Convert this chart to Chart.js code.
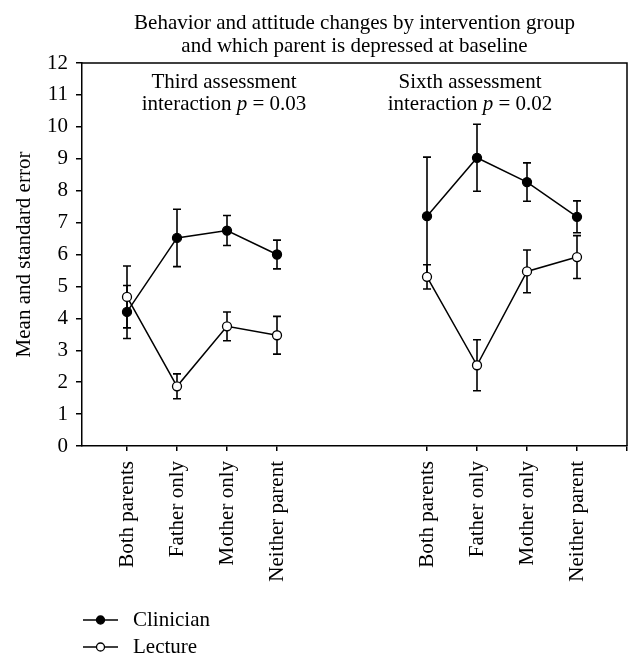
<!DOCTYPE html>
<html>
<head>
<meta charset="utf-8">
<script src="https://cdn.jsdelivr.net/npm/chart.js@4.4.1/dist/chart.umd.min.js"></script>
<style>
  html, body { margin: 0; padding: 0; background: #fff; }
  canvas { display: block; }
</style>
</head>
<body>
<canvas id="chart" width="642" height="665"></canvas>
<script>
// which parent is depressed at baseline
const categories = ['Both parents', 'Father only', 'Mother only', 'Neither parent'];

// third assessment: means and standard errors
const clinicianThird = [4.2, 6.52, 6.75, 6.0];
const clinicianThirdSE = [0.83, 0.9, 0.47, 0.45];
const lectureThird = [4.67, 1.87, 3.75, 3.47];
const lectureThirdSE = [0.97, 0.39, 0.45, 0.59];

// sixth assessment
const clinicianSixth = [7.2, 9.03, 8.27, 7.18];
const clinicianSixthSE = [1.85, 1.05, 0.6, 0.5];
const lectureSixth = [5.3, 2.53, 5.47, 5.92];
const lectureSixthSE = [0.38, 0.8, 0.67, 0.67];

const panelTitles = [
    ['Third assessment', 'interaction ', 'p', ' = 0.03'],
    ['Sixth assessment', 'interaction ', 'p', ' = 0.02']
];
const titleLines = ['Behavior and attitude changes by intervention group', 'and which parent is depressed at baseline'];
const yTitle = 'Mean and standard error';

const FONT = '"Liberation Serif", "Times New Roman", serif';

// two empty slots separate the two assessments
const slots = [...categories, '', '', ...categories];
const joinPanels = (a, b) => [...a, null, null, ...b];

const clinician = joinPanels(clinicianThird, clinicianSixth);
const clinicianSE = joinPanels(clinicianThirdSE, clinicianSixthSE);
const lecture = joinPanels(lectureThird, lectureSixth);
const lectureSE = joinPanels(lectureThirdSE, lectureSixthSE);

const toPoints = values => values.map((y, i) => ({ x: i, y: y }));

const errorBars = {
    id: 'errorBars',
    beforeDatasetsDraw(chart) {
        const ctx = chart.ctx;
        const xs = chart.scales.x, ys = chart.scales.y;
        ctx.save();
        ctx.strokeStyle = '#000';
        ctx.lineWidth = 1.6;
        chart.data.datasets.forEach(ds => {
            ds.data.forEach((p, i) => {
                if (p.y === null) return;
                const se = ds.se[i];
                const x = xs.getPixelForValue(p.x);
                const y1 = ys.getPixelForValue(p.y - se);
                const y2 = ys.getPixelForValue(p.y + se);
                ctx.beginPath();
                ctx.moveTo(x, y1); ctx.lineTo(x, y2);
                ctx.moveTo(x - 4, y1); ctx.lineTo(x + 4, y1);
                ctx.moveTo(x - 4, y2); ctx.lineTo(x + 4, y2);
                ctx.stroke();
            });
        });
        ctx.restore();
    }
};

function drawMixed(ctx, parts, cx, y) {
    const fonts = parts.map((t, i) => (i === 1 ? 'italic ' : '') + '21px ' + FONT);
    let total = 0;
    const widths = parts.map((t, i) => { ctx.font = fonts[i]; const w = ctx.measureText(t).width; total += w; return w; });
    let x = cx - total / 2;
    ctx.textAlign = 'left';
    parts.forEach((t, i) => { ctx.font = fonts[i]; ctx.fillText(t, x, y); x += widths[i]; });
}

const decorations = {
    id: 'decorations',
    afterDraw(chart) {
        const ctx = chart.ctx;
        const area = chart.chartArea;
        ctx.save();
        // frame on top and right
        ctx.strokeStyle = '#000';
        ctx.lineWidth = 1.5;
        ctx.beginPath();
        ctx.moveTo(area.left, area.top);
        ctx.lineTo(area.right, area.top);
        ctx.lineTo(area.right, area.bottom);
        ctx.stroke();

        ctx.fillStyle = '#000';
        ctx.textBaseline = 'alphabetic';
        ctx.font = '21px ' + FONT;
        ctx.textAlign = 'center';
        const cx = (area.left + area.right) / 2;
        ctx.fillText(titleLines[0], cx, 29);
        ctx.fillText(titleLines[1], cx, 52);

        // panel labels
        const centers = [224, 470];
        panelTitles.forEach((pt, k) => {
            ctx.font = '21px ' + FONT;
            ctx.textAlign = 'center';
            ctx.fillText(pt[0], centers[k], 88);
            drawMixed(ctx, pt.slice(1), centers[k], 110);
        });

        // legend
        chart.data.datasets.forEach((ds, k) => {
            const y = 620 + k * 27;
            ctx.strokeStyle = '#000';
            ctx.lineWidth = 1.5;
            ctx.beginPath();
            ctx.moveTo(83, y); ctx.lineTo(118, y);
            ctx.stroke();
            ctx.beginPath();
            ctx.arc(100.5, y, 4, 0, Math.PI * 2);
            ctx.fillStyle = ds.pointBackgroundColor;
            ctx.fill();
            ctx.lineWidth = 1.3;
            ctx.stroke();
            ctx.fillStyle = '#000';
            ctx.font = '21px ' + FONT;
            ctx.textAlign = 'left';
            ctx.textBaseline = 'middle';
            ctx.fillText(ds.label, 133, y);
        });
        ctx.restore();
    }
};

new Chart(document.getElementById('chart').getContext('2d'), {
    type: 'line',
    data: {
        datasets: [{
            label: 'Clinician',
            data: toPoints(clinician),
            se: clinicianSE,
            borderColor: '#000',
            borderWidth: 1.5,
            pointRadius: 4.5,
            pointBackgroundColor: '#000',
            pointBorderColor: '#000',
            pointBorderWidth: 1.3,
            spanGaps: false
        }, {
            label: 'Lecture',
            data: toPoints(lecture),
            se: lectureSE,
            borderColor: '#000',
            borderWidth: 1.5,
            pointRadius: 4.5,
            pointBackgroundColor: '#fff',
            pointBorderColor: '#000',
            pointBorderWidth: 1.3,
            spanGaps: false
        }]
    },
    options: {
        responsive: false,
        animation: false,
        devicePixelRatio: 1,
        layout: { padding: { top: 63, right: 15, left: 0, bottom: 0 } },
        plugins: {
            legend: { display: false },
            tooltip: { enabled: false }
        },
        scales: {
            x: {
                type: 'linear',
                min: -0.9,
                max: slots.length,
                afterBuildTicks: scale => {
                    const vals = slots.map((s, i) => s ? i : null).filter(v => v !== null);
                    vals.push(slots.length);
                    scale.ticks = vals.map(v => ({ value: v }));
                },
                afterFit: scale => {
                    scale.height = 219;
                    scale.paddingLeft = 0;
                    scale.paddingRight = 0;
                },
                ticks: {
                    autoSkip: false,
                    minRotation: 90,
                    maxRotation: 90,
                    padding: 10,
                    color: '#000',
                    font: { family: FONT, size: 21 },
                    callback: value => slots[value] || ''
                },
                grid: { drawOnChartArea: false, tickLength: 5, color: '#000', lineWidth: 1.5 },
                border: { color: '#000', width: 1.5 }
            },
            y: {
                min: 0,
                max: 12,
                afterFit: scale => {
                    scale.width = 82;
                    scale.paddingTop = 0;
                    scale.paddingBottom = 0;
                },
                ticks: {
                    stepSize: 1,
                    padding: 8,
                    color: '#000',
                    font: { family: FONT, size: 21 }
                },
                title: {
                    display: true,
                    text: yTitle,
                    color: '#000',
                    font: { family: FONT, size: 21 },
                    padding: { top: 12, bottom: 0 }
                },
                grid: { drawOnChartArea: false, tickLength: 6, color: '#000', lineWidth: 1.5 },
                border: { color: '#000', width: 1.5 }
            }
        }
    },
    plugins: [errorBars, decorations]
});
</script>
</body>
</html>
